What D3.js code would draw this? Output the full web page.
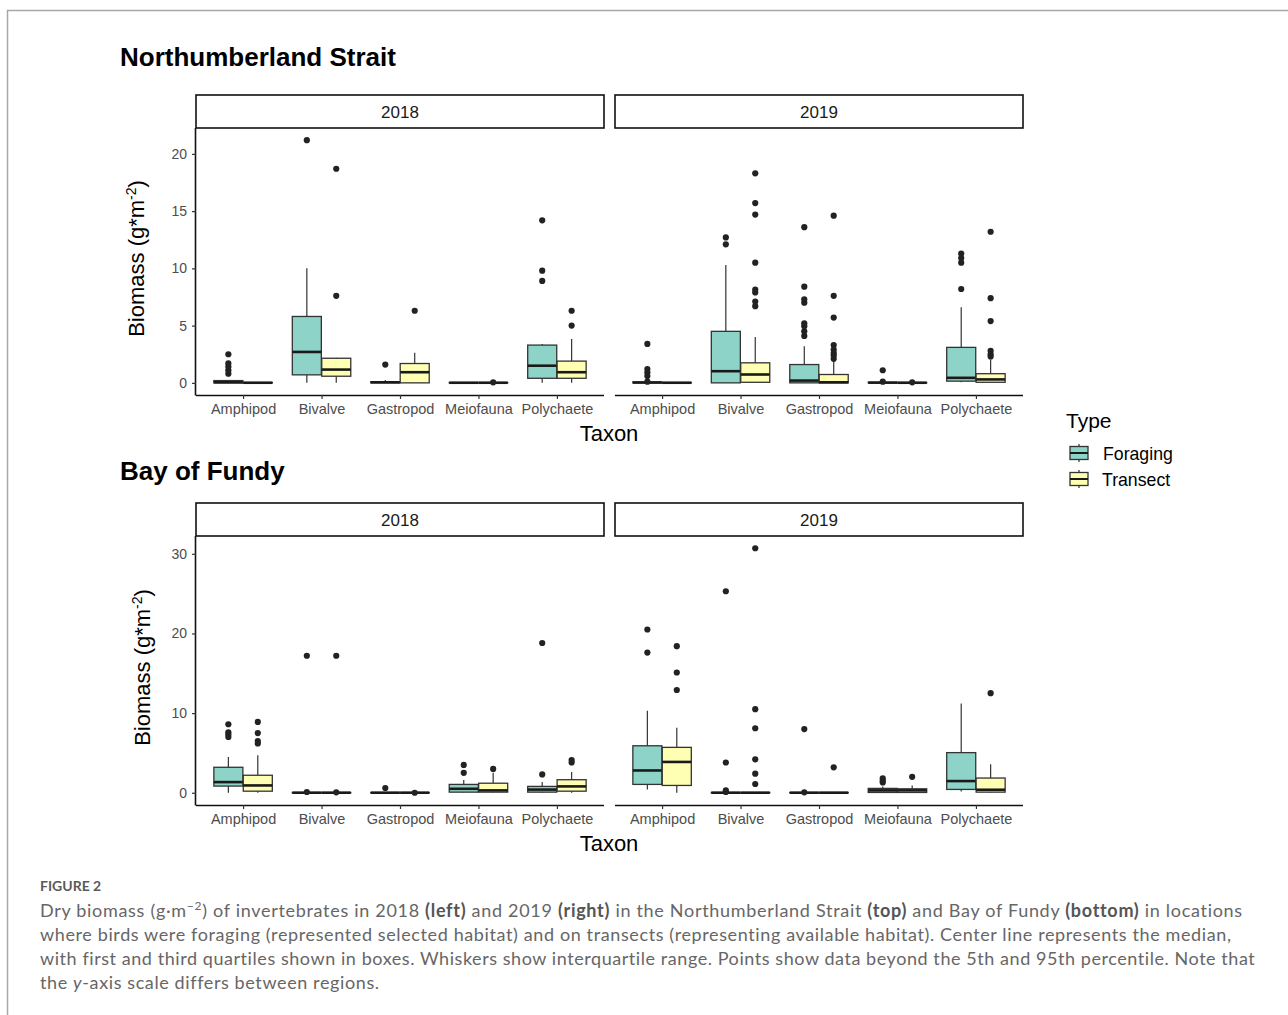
<!DOCTYPE html>
<html>
<head>
<meta charset="utf-8">
<script src="https://cdn.jsdelivr.net/npm/d3@7"></script>
<style>
  body { margin: 0; background: #fff; }
  svg { display: block; }
</style>
</head>
<body>
<div id="chart-container"></div>
<script>
// categories
var taxa = ["Amphipod", "Bivalve", "Gastropod", "Meiofauna", "Polychaete"];
var types = ["Foraging", "Transect"];
var years = ["2018", "2019"];
var nsTicks = [0, 5, 10, 15, 20];
var bofTicks = [0, 10, 20, 30];

// box stats per taxon: [lower whisker, q1, median, q3, upper whisker]
var nsForaging2018 = [[0, 0, 0.05, 0.2, 0.25], [0, 0.7, 2.7, 5.8, 10.0], [0, 0, 0.05, 0.1, 0.25], [0, 0, 0.01, 0.03, 0.05], [0, 0.4, 1.5, 3.3, 3.4]];
var nsTransect2018 = [[0, 0, 0.01, 0.03, 0.05], [0, 0.58, 1.16, 2.15, 2.2], [0, 0, 0.93, 1.69, 2.62], [0, 0, 0.01, 0.03, 0.05], [0, 0.4, 0.93, 1.9, 3.84]];
var nsForaging2019 = [[0, 0, 0.03, 0.08, 0.1], [0, 0, 1.02, 4.5, 10.3], [0, 0, 0.2, 1.6, 3.2], [0, 0, 0.02, 0.05, 0.1], [0.05, 0.15, 0.44, 3.1, 6.6]];
var nsTransect2019 = [[0, 0, 0.01, 0.03, 0.05], [0, 0.05, 0.73, 1.75, 4.0], [0, 0, 0.05, 0.73, 1.9], [0, 0, 0.01, 0.03, 0.05], [0, 0.05, 0.3, 0.8, 2.0]];
var bofForaging2018 = [[0, 0.84, 1.34, 3.2, 4.5], [0, 0, 0.01, 0.03, 0.05], [0, 0, 0.01, 0.03, 0.05], [0, 0.08, 0.5, 1.05, 1.6], [0, 0.08, 0.4, 0.8, 1.35]];
var bofTransect2018 = [[0, 0.2, 0.92, 2.2, 4.7], [0, 0, 0.01, 0.03, 0.05], [0, 0, 0.01, 0.03, 0.05], [0, 0.08, 0.3, 1.2, 2.5], [0, 0.2, 0.8, 1.64, 2.6]];
var bofForaging2019 = [[0.4, 1.05, 2.8, 5.9, 10.3], [0, 0, 0.01, 0.03, 0.05], [0, 0, 0.01, 0.03, 0.05], [0, 0.04, 0.3, 0.55, 0.8], [0.17, 0.42, 1.47, 5.04, 11.2]];
var bofTransect2019 = [[0, 0.92, 3.87, 5.7, 8.15], [0, 0, 0.01, 0.03, 0.05], [0, 0, 0.01, 0.03, 0.05], [0, 0.04, 0.3, 0.5, 0.9], [0, 0.08, 0.38, 1.85, 3.57]];

// outlying points per taxon
var nsForagingOut2018 = [[0.8, 1.1, 1.4, 1.7, 2.5], [21.2], [1.6], [], [8.9, 9.8, 14.2]];
var nsTransectOut2018 = [[], [7.6, 18.7], [6.3], [0.05], [5.0, 6.3]];
var nsForagingOut2019 = [[0.1, 0.6, 0.9, 1.2, 3.4], [12.1, 12.7], [4.1, 4.5, 4.95, 5.2, 7.0, 7.3, 8.4, 13.6], [0.1, 1.1], [8.2, 10.5, 10.9, 11.3]];
var nsTransectOut2019 = [[], [6.7, 7.1, 7.9, 8.15, 10.5, 14.7, 15.7, 18.3], [2.1, 2.4, 2.6, 2.9, 3.3, 5.7, 7.6, 14.6], [0.05], [2.3, 2.5, 2.8, 5.4, 7.4, 13.2]];
var bofForagingOut2018 = [[7.0, 7.3, 7.6, 8.6], [0.1, 17.2], [0.6], [2.5, 3.5], [2.3, 18.8]];
var bofTransectOut2018 = [[6.2, 6.5, 7.5, 8.9], [0.05, 17.2], [0], [3.0], [3.8, 4.1]];
var bofForagingOut2019 = [[17.6, 20.5], [0.1, 0.3, 3.8, 25.3], [0.05, 8.0], [1.3, 1.5, 1.8], []];
var bofTransectOut2019 = [[12.9, 15.1, 18.4], [1.1, 2.4, 4.2, 8.1, 10.5, 30.7], [3.2], [2.0], [12.5]];

var colors = { Foraging: "#8dd3c7", Transect: "#ffffb3" };
var font = "'Liberation Sans', Arial, sans-serif";

var svg = d3.select("#chart-container").append("svg")
    .attr("width", 1288)
    .attr("height", 1015);

// page frame
svg.append("path")
  .attr("d", "M7.5,1015V10.5H1288")
  .attr("fill", "none")
  .attr("stroke", "#a8a8a8")
  .attr("stroke-width", 1.5);

var regions = [
  { title: "Northumberland Strait", titleY: 66, top: 128, bottom: 395, max: 21.2, ticks: nsTicks, labelX: 144,
    stats: [[nsForaging2018, nsTransect2018], [nsForaging2019, nsTransect2019]],
    outs: [[nsForagingOut2018, nsTransectOut2018], [nsForagingOut2019, nsTransectOut2019]] },
  { title: "Bay of Fundy", titleY: 480, top: 536, bottom: 805, max: 30.7, ticks: bofTicks, labelX: 150,
    stats: [[bofForaging2018, bofTransect2018], [bofForaging2019, bofTransect2019]],
    outs: [[bofForagingOut2018, bofTransectOut2018], [bofForagingOut2019, bofTransectOut2019]] }
];
var panelX = [[196, 604], [615, 1023]];

regions.forEach(function(r) {
  var pad = r.max * 0.05;
  var y = d3.scaleLinear().domain([-pad, r.max + pad]).range([r.bottom, r.top]);

  svg.append("text")
    .attr("x", 120).attr("y", r.titleY)
    .attr("font-family", font).attr("font-weight", "bold").attr("font-size", 26)
    .text(r.title);

  var lab = svg.append("text")
    .attr("transform", "translate(" + r.labelX + "," + ((r.top + r.bottom) / 2 - 3) + ") rotate(-90)")
    .attr("text-anchor", "middle")
    .attr("font-family", font).attr("font-size", 22);
  lab.append("tspan").text("Biomass (g*m");
  lab.append("tspan").attr("dy", -8).attr("font-size", 14).text("-2");
  lab.append("tspan").attr("dy", 8).text(")");

  years.forEach(function(yr, yi) {
    var x0 = panelX[yi][0], x1 = panelX[yi][1];
    var x = d3.scalePoint().domain(taxa).range([x0, x1]).padding(0.6);
    var step = x.step();
    var bw = step * 0.37;
    var dodge = d3.scaleBand().domain(types).range([-step * 0.375, step * 0.375]);

    // strip
    svg.append("rect")
      .attr("x", x0).attr("y", r.top - 33).attr("width", x1 - x0).attr("height", 33)
      .attr("fill", "#fff").attr("stroke", "#111").attr("stroke-width", 1.6);
    svg.append("text")
      .attr("x", (x0 + x1) / 2).attr("y", r.top - 10)
      .attr("text-anchor", "middle")
      .attr("font-family", font).attr("font-size", 17).attr("fill", "#1a1a1a")
      .text(yr);

    // x axis
    var gx = svg.append("g").attr("transform", "translate(0," + r.bottom + ")")
      .call(d3.axisBottom(x).tickSize(4).tickPadding(5));
    gx.select(".domain").attr("d", "M" + x0 + ",0.5H" + x1).attr("stroke", "#111").attr("stroke-width", 1.6);
    gx.selectAll(".tick line").attr("stroke", "#333").attr("stroke-width", 1.2);
    gx.selectAll(".tick text").attr("font-family", font).attr("font-size", 14.5).attr("fill", "#4d4d4d");

    if (yi === 0) {
      var gy = svg.append("g").attr("transform", "translate(" + x0 + ",0)")
        .call(d3.axisLeft(y).tickValues(r.ticks).tickSize(4).tickPadding(5));
      gy.select(".domain").attr("d", "M-0.5," + r.top + "V" + (r.bottom + 0.5)).attr("stroke", "#111").attr("stroke-width", 1.6);
      gy.selectAll(".tick line").attr("stroke", "#333").attr("stroke-width", 1.2);
      gy.selectAll(".tick text").attr("font-family", font).attr("font-size", 14).attr("fill", "#4d4d4d");
    }

    types.forEach(function(tp, ti) {
      var st = r.stats[yi][ti];
      var ot = r.outs[yi][ti];
      taxa.forEach(function(tx, k) {
        var s = st[k];
        var cx = x(tx) + dodge(tp) + dodge.bandwidth() / 2;
        var g = svg.append("g");
        g.append("line")
          .attr("x1", cx).attr("x2", cx).attr("y1", y(s[4])).attr("y2", y(s[3]))
          .attr("stroke", "#333").attr("stroke-width", 1.2);
        g.append("line")
          .attr("x1", cx).attr("x2", cx).attr("y1", y(s[1])).attr("y2", y(s[0]))
          .attr("stroke", "#333").attr("stroke-width", 1.2);
        g.append("rect")
          .attr("x", cx - bw / 2).attr("width", bw)
          .attr("y", y(s[3])).attr("height", Math.max(0, y(s[1]) - y(s[3])))
          .attr("fill", colors[tp]).attr("stroke", "#333").attr("stroke-width", 1.3);
        g.append("line")
          .attr("x1", cx - bw / 2).attr("x2", cx + bw / 2).attr("y1", y(s[2])).attr("y2", y(s[2]))
          .attr("stroke", "#1a1a1a").attr("stroke-width", 2.6);
        g.selectAll("circle").data(ot[k]).enter().append("circle")
          .attr("cx", cx).attr("cy", function(d) { return y(d); })
          .attr("r", 3.1).attr("fill", "#222");
      });
    });
  });

  svg.append("text")
    .attr("x", 609).attr("y", r.bottom + 46)
    .attr("text-anchor", "middle")
    .attr("font-family", font).attr("font-size", 22)
    .text("Taxon");
});

// legend
svg.append("text")
  .attr("x", 1066).attr("y", 428)
  .attr("font-family", font).attr("font-size", 21)
  .text("Type");
types.forEach(function(tp, i) {
  var ky = 453 + i * 26;
  var k = svg.append("g");
  k.append("line").attr("x1", 1079).attr("x2", 1079).attr("y1", ky - 9).attr("y2", ky + 9)
    .attr("stroke", "#333").attr("stroke-width", 1.2);
  k.append("rect").attr("x", 1070).attr("y", ky - 6.5).attr("width", 18).attr("height", 13)
    .attr("fill", colors[tp]).attr("stroke", "#333").attr("stroke-width", 1.3);
  k.append("line").attr("x1", 1070).attr("x2", 1088).attr("y1", ky).attr("y2", ky)
    .attr("stroke", "#1a1a1a").attr("stroke-width", 2);
  svg.append("text")
    .attr("x", 1103 - i).attr("y", ky + 7)
    .attr("font-family", font).attr("font-size", 17.7)
    .text(tp);
});

// caption
var capFont = "Lato, 'Open Sans', sans-serif";
svg.append("text")
  .attr("x", 40).attr("y", 891)
  .attr("font-family", capFont).attr("font-size", 14).attr("font-weight", "bold").attr("fill", "#5a5a5a")
  .text("FIGURE 2");

var capLines = [
  { w: 1202, parts: [["Dry biomass (g·m"], ["−2", "sup"], [") of invertebrates in 2018 ", "down"], ["(left)", "b"], [" and 2019 "], ["(right)", "b"], [" in the Northumberland Strait "], ["(top)", "b"], [" and Bay of Fundy "], ["(bottom)", "b"], [" in locations"]] },
  { w: 1192, parts: [["where birds were foraging (represented selected habitat) and on transects (representing available habitat). Center line represents the median,"]] },
  { w: 1216, parts: [["with first and third quartiles shown in boxes. Whiskers show interquartile range. Points show data beyond the 5th and 95th percentile. Note that"]] },
  { w: 339, parts: [["the "], ["y", "i"], ["-axis scale differs between regions."]] }
];
capLines.forEach(function(line, i) {
  var t = svg.append("text")
    .attr("x", 40).attr("y", 917 + i * 24)
    .attr("font-family", capFont).attr("font-size", 18).attr("fill", "#666");
  line.parts.forEach(function(p) {
    var ts = t.append("tspan").text(p[0]);
    if (p[1] === "b") ts.attr("font-weight", "bold").attr("fill", "#555");
    if (p[1] === "i") ts.attr("font-style", "italic");
    if (p[1] === "sup") ts.attr("dy", -7).attr("font-size", 12);
    if (p[1] === "down") ts.attr("dy", 7);
  });
  var n = t.text().length;
  var natural = t.node().getComputedTextLength();
  t.attr("letter-spacing", ((line.w - natural) / n) + "px");
});
</script>
</body>
</html>
